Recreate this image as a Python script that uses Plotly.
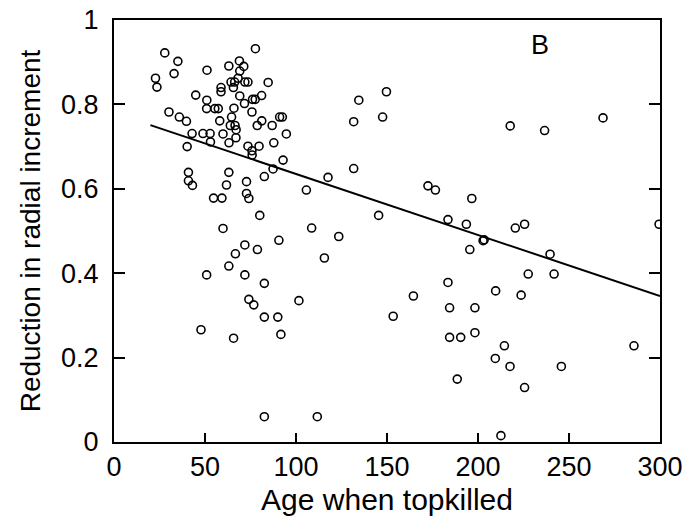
import plotly.graph_objects as go

# Age when topkilled (years)
age = [
    27.9, 35.1, 33.0, 22.8, 23.6, 77.7, 51.1, 63.1, 68.9, 71.3,
    69.1, 64.3, 66.3, 68.2, 71.9, 73.6, 84.7, 58.8, 58.8, 65.6,
    69.1, 44.9, 51.0, 50.9, 55.4, 57.3, 65.9, 71.7, 76.1, 77.6,
    81.1, 30.2, 35.9, 39.8, 58.1, 64.6, 63.9, 66.5, 67.1, 75.8,
    81.2, 78.7, 86.9, 91.0, 92.5, 94.7, 42.9, 48.9, 52.8, 53.0,
    59.9, 63.2, 67.0, 40.2, 73.6, 79.7, 87.8, 75.8, 75.9, 92.9,
    87.4, 82.6, 40.9, 40.9, 43.1, 63.1, 61.8, 72.8, 72.8, 74.1,
    54.7, 59.3, 80.1, 59.9, 90.6, 71.9, 78.8, 66.7, 63.1, 50.9,
    71.9, 82.6, 74.1, 76.8, 82.6, 90.0, 91.7, 47.8, 65.7, 82.6,
    149.7, 134.5, 131.7, 147.6, 131.7, 117.6, 105.7, 145.4, 172.5, 176.6,
    196.6, 183.5, 193.6, 195.5, 108.6, 123.5, 115.6, 101.6, 111.7, 153.4,
    164.5, 183.5, 184.4, 184.4, 190.5, 188.6, 198.3, 198.3, 217.7, 236.6,
    268.7, 202.8, 203.4, 220.5, 225.6, 239.6, 227.6, 241.8, 299.5, 209.7,
    223.7, 214.5, 209.5, 217.6, 245.8, 225.6, 285.7, 212.6,
]

# Reduction in radial increment
reduction = [
    0.922, 0.902, 0.873, 0.862, 0.841, 0.932, 0.881, 0.891, 0.903, 0.890,
    0.879, 0.853, 0.853, 0.862, 0.853, 0.853, 0.852, 0.840, 0.830, 0.840,
    0.820, 0.822, 0.810, 0.790, 0.790, 0.790, 0.791, 0.802, 0.812, 0.812,
    0.821, 0.782, 0.770, 0.760, 0.761, 0.770, 0.750, 0.750, 0.740, 0.782,
    0.761, 0.750, 0.750, 0.770, 0.770, 0.730, 0.731, 0.731, 0.731, 0.711,
    0.730, 0.709, 0.721, 0.700, 0.701, 0.701, 0.709, 0.690, 0.680, 0.668,
    0.647, 0.629, 0.639, 0.619, 0.608, 0.639, 0.609, 0.617, 0.589, 0.577,
    0.578, 0.578, 0.537, 0.506, 0.478, 0.467, 0.456, 0.446, 0.417, 0.396,
    0.396, 0.376, 0.338, 0.325, 0.296, 0.296, 0.255, 0.266, 0.246, 0.060,
    0.830, 0.810, 0.759, 0.770, 0.648, 0.627, 0.597, 0.537, 0.607, 0.597,
    0.577, 0.527, 0.516, 0.456, 0.507, 0.487, 0.436, 0.335, 0.060, 0.298,
    0.346, 0.378, 0.318, 0.248, 0.248, 0.149, 0.318, 0.259, 0.749, 0.738,
    0.768, 0.477, 0.479, 0.507, 0.516, 0.445, 0.398, 0.398, 0.516, 0.358,
    0.348, 0.228, 0.198, 0.179, 0.179, 0.129, 0.228, 0.015,
]

# Regression line endpoints
fit_age = [20, 300]
fit_reduction = [0.751, 0.346]

x_ticks = [0, 50, 100, 150, 200, 250, 300]
x_tick_labels = ["0", "50", "100", "150", "200", "250", "300"]
y_ticks = [0, 0.2, 0.4, 0.6, 0.8, 1]
y_tick_labels = ["0", "0.2", "0.4", "0.6", "0.8", "1"]

panel_label = "B"
x_title = "Age when topkilled"
y_title = "Reduction in radial increment"

FONT = "Liberation Sans, Arial, Helvetica, sans-serif"

fig = go.Figure()
fig.add_trace(go.Scatter(
    x=age, y=reduction, mode="markers",
    marker=dict(symbol="circle-open", size=8, color="black",
                line=dict(width=1.6, color="black")),
    showlegend=False, cliponaxis=True,
))
fig.add_trace(go.Scatter(
    x=fit_age, y=fit_reduction, mode="lines",
    line=dict(color="black", width=2),
    showlegend=False,
))

fig.add_annotation(x=234, y=0.94, text=panel_label, showarrow=False,
                   font=dict(family=FONT, size=27, color="black"))

# The page body adds an 8px offset, so the figure is sized to fit the window.
fig.update_layout(
    width=692, height=508,
    margin=dict(l=106, r=40, t=12, b=74),
    paper_bgcolor="white", plot_bgcolor="white",
    font=dict(family=FONT, color="black"),
)
fig.update_xaxes(
    range=[0, 300], tickvals=x_ticks, ticktext=x_tick_labels,
    showgrid=False, zeroline=False, automargin=False,
    showline=True, linecolor="black", linewidth=2, mirror=True,
    ticks="inside", ticklen=9, tickwidth=1.5, tickcolor="black",
    tickfont=dict(family=FONT, size=27, color="black"),
    ticklabeloverflow="allow",
    title=dict(text=x_title, font=dict(family=FONT, size=30, color="black"), standoff=13),
)
fig.update_yaxes(
    range=[0, 1], tickvals=y_ticks, ticktext=y_tick_labels,
    showgrid=False, zeroline=False, automargin=False,
    showline=True, linecolor="black", linewidth=2, mirror="ticks",
    ticks="inside", ticklen=11, tickwidth=1.5, tickcolor="black",
    tickfont=dict(family=FONT, size=27, color="black"),
    ticklabelstandoff=8, ticklabeloverflow="allow",
    title=dict(text=y_title, font=dict(family=FONT, size=28, color="black"), standoff=12),
)

fig.write_html("out.html")
